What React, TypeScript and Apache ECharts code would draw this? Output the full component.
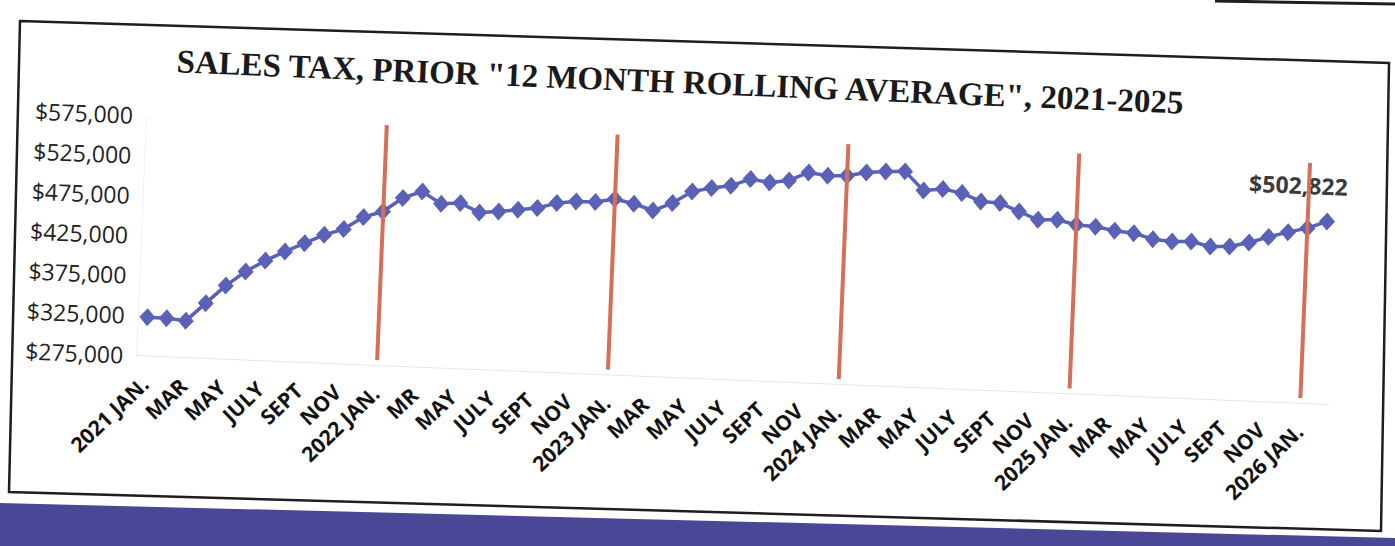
import React, { useEffect, useRef } from 'react';
import * as echarts from 'echarts';

// ---------- data ----------
const categories = [
  '2021 JAN.', 'FEB', 'MAR', 'APR', 'MAY', 'JUNE', 'JULY', 'AUG', 'SEPT', 'OCT', 'NOV', 'DEC',
  '2022 JAN.', 'FEB', 'MR', 'APR', 'MAY', 'JUNE', 'JULY', 'AUG', 'SEPT', 'OCT', 'NOV', 'DEC',
  '2023 JAN.', 'FEB', 'MAR', 'APR', 'MAY', 'JUNE', 'JULY', 'AUG', 'SEPT', 'OCT', 'NOV', 'DEC',
  '2024 JAN.', 'FEB', 'MAR', 'APR', 'MAY', 'JUNE', 'JULY', 'AUG', 'SEPT', 'OCT', 'NOV', 'DEC',
  '2025 JAN.', 'FEB', 'MAR', 'APR', 'MAY', 'JUNE', 'JULY', 'AUG', 'SEPT', 'OCT', 'NOV', 'DEC',
  '2026 JAN.', 'FEB',
];

const rollingAverage = [
  322900, 322600, 320300, 343400, 366400, 384900, 399600, 411900, 423400, 434800, 443000, 459000,
  467000, 484800, 494000, 479500, 481400, 470600, 472900, 476000, 479100, 486400, 489400, 489600,
  494400, 489500, 482000, 492300, 507800, 513000, 517000, 526300, 523100, 526500, 537500, 534400,
  535400, 540500, 542600, 543800, 520900, 523600, 519600, 510100, 509100, 499500, 490100, 491100,
  485800, 484500, 480500, 478300, 471800, 469800, 470800, 465500, 466600, 472500, 480400, 487500,
  493500, 502822,
];

const yMin = 275000;
const yMax = 575000;
const yLabelStep = 50000;
const yearStartIndex = [12, 24, 36, 48, 60];
const yearLineRange = [281000, 575000];
const lastValueLabel = '$502,822';
const titleText = 'SALES TAX, PRIOR "12 MONTH ROLLING AVERAGE", 2021-2025';

// ---------- scan geometry ----------
const TILT = 0.041; // slope of the scanned page
const ANG = Math.atan(TILT);
const OX = 60;
const OY = 80;
const CW = 1395 + 2 * OX;
const CH = 546 + 2 * OY;
const CX = 697.5;
const CY = 273;

// convert a point seen on the (tilted) page into the chart's own coordinates
function unrot(px: number, py: number): [number, number] {
  const c = Math.cos(ANG);
  const s = Math.sin(ANG);
  const x = CX + (px - CX) * c + (py - CY) * s;
  const y = CY - (px - CX) * s + (py - CY) * c;
  return [x + OX, y + OY];
}

export default function App() {
  const ref = useRef<HTMLDivElement>(null);

  useEffect(() => {
    const chart = echarts.init(ref.current as HTMLDivElement, null, { renderer: 'svg' });

    const lastIdx = rollingAverage.length - 1;
    const lineData = rollingAverage.map((v, i) =>
      i === lastIdx
        ? {
            value: v,
            label: {
              show: true,
              formatter: lastValueLabel,
              position: 'top',
              offset: [-30, -10],
              fontFamily: 'Open Sans',
              fontWeight: 'bold',
              fontSize: 23,
              color: '#3a3a3a',
            },
          }
        : v
    );

    const boxPts = [unrot(20, 21), unrot(1389, 63), unrot(1381, 531), unrot(9, 492)];
    const bannerPts = [unrot(0, 503), unrot(1395, 538), unrot(1395, 600), unrot(0, 600)];
    const fragA = unrot(1215, 1);
    const fragB = unrot(1400, 4);
    const titlePos = unrot(680, 82);

    chart.setOption({
      animation: false,
      backgroundColor: '#ffffff',
      grid: { left: 200, top: 218, width: 1194, height: 240, containLabel: false },
      xAxis: {
        type: 'category',
        data: categories,
        boundaryGap: true,
        axisLine: { show: true, lineStyle: { color: '#e2e2e2', width: 1, type: 'dotted' } },
        axisTick: { show: false },
        axisLabel: {
          interval: 1,
          rotate: 46,
          margin: 25,
          fontFamily: 'Open Sans',
          fontWeight: 'bold',
          fontSize: 21,
          color: '#111111',
        },
        splitLine: { show: false },
      },
      yAxis: {
        type: 'value',
        min: yMin,
        max: yMax,
        interval: 25000,
        axisLine: { show: true, lineStyle: { color: '#ececec', width: 1, type: 'dotted' } },
        axisTick: { show: false },
        splitLine: { show: false },
        axisLabel: {
          margin: 13,
          fontFamily: 'Open Sans',
          fontSize: 23,
          color: '#222222',
          formatter: (v: number) =>
            (v - yMin) % yLabelStep === 0 ? '$' + v.toLocaleString('en-US') : '',
        },
      },
      graphic: [
        {
          type: 'polygon',
          shape: { points: boxPts },
          style: { fill: 'none', stroke: '#1e1e1e', lineWidth: 2.5 },
          silent: true,
        },
        {
          type: 'polygon',
          shape: { points: bannerPts },
          style: { fill: '#4a4896' },
          silent: true,
        },
        {
          type: 'line',
          shape: { x1: fragA[0], y1: fragA[1], x2: fragB[0], y2: fragB[1] },
          style: { stroke: '#1e1e1e', lineWidth: 3 },
          silent: true,
        },
        {
          type: 'text',
          x: titlePos[0],
          y: titlePos[1],
          style: {
            text: titleText,
            fontFamily: 'Liberation Serif',
            fontWeight: 'bold',
            fontSize: 33,
            fill: '#1a1a1a',
            align: 'center',
            verticalAlign: 'middle',
          },
        },
      ],
      series: [
        {
          name: 'Year start',
          type: 'line',
          data: [],
          z: 1,
          silent: true,
          markLine: {
            symbol: 'none',
            silent: true,
            label: { show: false },
            lineStyle: { color: '#d4705a', width: 4, type: 'solid' },
            data: yearStartIndex.map((i) => [
              { coord: [i, yearLineRange[0]] },
              { coord: [i, yearLineRange[1]] },
            ]),
          },
        },
        {
          name: 'Sales tax 12 month rolling average',
          type: 'line',
          z: 3,
          data: lineData,
          showAllSymbol: true,
          symbol: 'diamond',
          symbolSize: [16, 18],
          lineStyle: { color: '#5962b6', width: 3.5 },
          itemStyle: { color: '#5962b6' },
        },
      ],
    });

    return () => chart.dispose();
  }, []);

  return (
    <div
      style={{
        position: 'fixed',
        left: 0,
        top: 0,
        width: 1395,
        height: 546,
        overflow: 'hidden',
        background: '#ffffff',
      }}
    >
      <div
        ref={ref}
        style={{
          position: 'absolute',
          left: -OX,
          top: -OY,
          width: CW,
          height: CH,
          transform: `rotate(${(ANG * 180) / Math.PI}deg)`,
          transformOrigin: '50% 50%',
        }}
      />
    </div>
  );
}
